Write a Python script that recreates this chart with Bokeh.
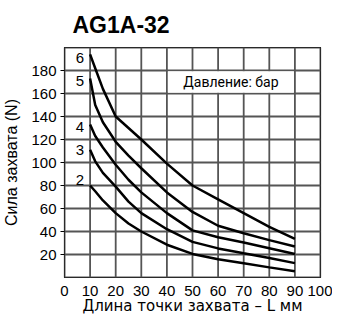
from bokeh.plotting import figure
from bokeh.models import FixedTicker, Label, Title
from bokeh.core.properties import value
from bokeh.embed import file_html
from bokeh.resources import INLINE

# ---- data ----
x_mm = [10, 12, 15, 20, 25, 30, 40, 50, 60, 70, 80, 90]
force_6bar = [194, 182, 164, 140, 130, 120, 99, 80, 68, 56, 44, 33.5]
force_5bar = [173, 150, 135, 118, 106, 95, 74, 57, 45, 38.5, 32.5, 27]
force_4bar = [133, 123, 113, 98, 85, 74, 56, 41, 35, 30.5, 25.5, 20.5]
force_3bar = [111, 101, 91, 79, 66, 56, 42, 31, 25.3, 21, 17, 12.5]
force_2bar = [80, 75, 67, 56, 47, 40, 28.5, 20.5, 15.8, 12.3, 8.8, 5.4]

pressure_labels = ["2", "3", "4", "5", "6"]
pressure_label_x = [6, 6, 6, 6, 6]
pressure_label_y = [85, 110.8, 130.6, 170.5, 190.5]

x_ticks = [0, 10, 20, 30, 40, 50, 60, 70, 80, 90, 100]
y_ticks = [20, 40, 60, 80, 100, 120, 140, 160, 180]
y_grid = [0, 20, 40, 60, 80, 100, 120, 140, 160, 180, 200]

title_text = "AG1A-32"
x_label = "Длина точки захвата – L мм"
y_label = "Сила захвата (N)"
note_text = "Давление: бар"

X_MIN, X_MAX, Y_MIN, Y_MAX = 0, 100, 0, 200

p = figure(width=332, height=319, output_backend="svg", toolbar_location=None,
           x_range=(X_MIN, X_MAX), y_range=(Y_MIN, Y_MAX),
           min_border_left=64, min_border_right=12, min_border_top=43, min_border_bottom=42)

p.title = Title(text=title_text, text_font="Liberation Sans", text_font_size="23px",
                text_font_style="bold", align="left", offset=8, standoff=19,
                text_color="black")

p.background_fill_color = "white"
p.border_fill_color = "white"
p.outline_line_color = "black"
p.outline_line_width = 1.2
p.xgrid.visible = False
p.ygrid.visible = False

# grid lines drawn from the tick lists
p.segment(x0=x_ticks, y0=[Y_MIN] * len(x_ticks), x1=x_ticks, y1=[Y_MAX] * len(x_ticks),
          line_color="#555555", line_width=1.8)
p.segment(x0=[X_MIN] * len(y_grid), y0=y_grid, x1=[X_MAX] * len(y_grid), y1=y_grid,
          line_color="#555555", line_width=1.8)

# axes
p.xaxis.ticker = FixedTicker(ticks=x_ticks)
p.yaxis.ticker = FixedTicker(ticks=y_ticks)
for ax in (p.xaxis[0], p.yaxis[0]):
    ax.axis_line_color = None
    ax.minor_tick_line_color = None
    ax.major_label_text_font = "Liberation Sans"
    ax.major_label_text_font_size = "15px"
    ax.major_label_text_color = "black"
    ax.axis_label_text_font_style = "normal"
    ax.axis_label_text_color = "black"
p.xaxis.major_tick_line_color = None
p.xaxis.major_tick_out = 0
p.xaxis.major_tick_in = 0
p.xaxis.major_label_standoff = 8
p.yaxis.major_tick_out = 4
p.yaxis.major_tick_in = 0
p.yaxis.major_tick_line_color = "black"
p.yaxis.major_label_standoff = 4

p.xaxis.axis_label = x_label
p.xaxis.axis_label_text_font = "DejaVu Sans"
p.xaxis.axis_label_text_font_size = "15px"
p.xaxis.axis_label_standoff = -2
p.yaxis.axis_label = y_label
p.yaxis.axis_label_text_font = "Liberation Sans"
p.yaxis.axis_label_text_font_size = "16px"
p.yaxis.axis_label_standoff = 8

# note box
p.quad(left=[40.4], right=[89.6], bottom=[160.7], top=[179.3],
       fill_color="white", fill_alpha=1, line_color=None)
p.add_layout(Label(x=65, y=170, text=note_text, text_align="center", text_baseline="middle",
                   text_font="Roboto", text_font_size="14px", text_color="black"))

# curves
for ys in (force_2bar, force_3bar, force_4bar, force_5bar, force_6bar):
    p.line(x_mm, ys, line_color="black", line_width=2.5)

p.text(x=pressure_label_x, y=pressure_label_y, text=pressure_labels,
       text_align="center", text_baseline="middle",
       text_font=value("Liberation Sans"), text_font_size="15px", text_color="black")

open("out.html", "w").write(file_html(p, INLINE))
